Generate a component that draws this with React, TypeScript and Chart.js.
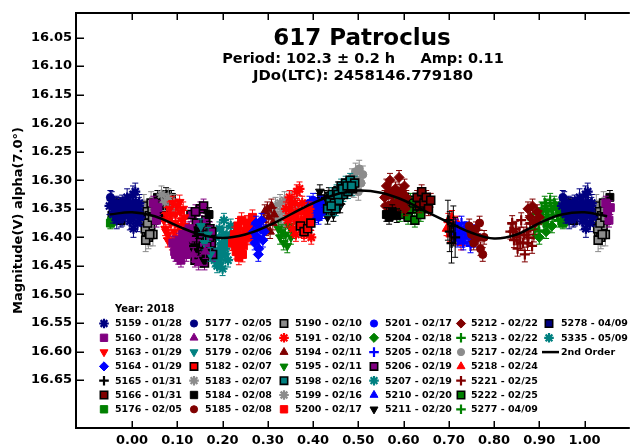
import React, { useEffect, useRef } from "react";
import { Chart, registerables } from "chart.js";
import { drawPoint } from "chart.js/helpers";

Chart.register(...registerables);

// ---------- axis ticks ----------
const xTicks = [0, 0.1, 0.2, 0.3, 0.4, 0.5, 0.6, 0.7, 0.8, 0.9, 1.0];
const yTicks = [16.05, 16.1, 16.15, 16.2, 16.25, 16.3, 16.35, 16.4, 16.45, 16.5, 16.55, 16.6, 16.65];

// ---------- session data: [phase, magnitude] ----------
const s5159 = [[0.95,16.345],[0.955,16.335],[0.958,16.36],[0.962,16.35],[0.966,16.37],[0.97,16.355],[0.974,16.345],[0.978,16.365],[0.982,16.352],[0.986,16.345],[0.989,16.33],[0.991,16.36],[0.993,16.35],[0.995,16.372],[0.997,16.34],[0.999,16.355],[0.002,16.325],[0.004,16.345],[0.006,16.362],[0.008,16.338],[0.01,16.35],[0.012,16.375],[0.014,16.355],[0.016,16.34],[0.018,16.365],[0.003,16.385],[0.007,16.32],[0.96,16.355],[0.968,16.345],[0.976,16.355],[0.992,16.345],[0.998,16.365],[0.005,16.35],[0.011,16.36],[0.015,16.345]];
const s5160 = [[0.09,16.41],[0.094,16.425],[0.098,16.415],[0.102,16.435],[0.106,16.42],[0.11,16.43],[0.114,16.41],[0.118,16.425],[0.122,16.4],[0.126,16.385],[0.112,16.395],[0.104,16.405],[0.096,16.43],[0.1,16.42],[0.108,16.44],[0.116,16.415],[0.12,16.43],[0.047,16.34],[0.051,16.355],[0.054,16.37],[0.057,16.348]];
const s5163 = [[0.07,16.37],[0.073,16.385],[0.076,16.36],[0.08,16.395],[0.083,16.35],[0.086,16.375],[0.09,16.34],[0.093,16.39],[0.096,16.36],[0.1,16.345],[0.103,16.38],[0.106,16.355],[0.11,16.37],[0.113,16.35],[0.116,16.365],[0.088,16.41],[0.079,16.405],[0.098,16.4],[0.105,16.338],[0.075,16.39],[0.085,16.36],[0.095,16.375],[0.108,16.39],[0.118,16.38],[0.082,16.37]];
const s5164 = [[0.268,16.39],[0.271,16.41],[0.274,16.375],[0.277,16.4],[0.28,16.42],[0.283,16.385],[0.286,16.37],[0.289,16.405],[0.292,16.39],[0.279,16.43]];
const s5165 = [[0.698,16.37],[0.702,16.39],[0.706,16.41],[0.71,16.38],[0.714,16.4]];
const s5166 = [[0.63,16.33],[0.635,16.345],[0.64,16.32],[0.645,16.34],[0.65,16.33],[0.655,16.35],[0.66,16.335]];
const s5176 = [[0.952,16.375],[0.955,16.372]];
const s5177 = [[0.952,16.33],[0.96,16.345],[0.968,16.36],[0.978,16.338]];
const s5178 = [[0.135,16.43],[0.147,16.445],[0.162,16.425]];
const s5179 = [[0.152,16.38],[0.16,16.41],[0.168,16.395],[0.173,16.43]];
const s5182 = [[0.372,16.38],[0.38,16.39],[0.388,16.385],[0.395,16.375]];
const s5183 = [[0.065,16.325],[0.072,16.338],[0.08,16.33],[0.088,16.35],[0.093,16.34]];
const s5184 = [[0.056,16.33],[0.06,16.345],[0.063,16.36],[0.067,16.335],[0.071,16.35],[0.075,16.325],[0.079,16.34],[0.083,16.355],[0.087,16.33],[0.091,16.345],[0.138,16.42],[0.146,16.39],[0.155,16.44],[0.164,16.43],[0.17,16.36],[0.562,16.36],[0.568,16.365],[0.575,16.355],[0.585,16.362]];
const s5185 = [[0.745,16.38],[0.75,16.395],[0.755,16.41],[0.76,16.385],[0.765,16.4],[0.77,16.42],[0.775,16.43],[0.768,16.375],[0.778,16.4]];
const s5190 = [[0.026,16.345],[0.028,16.37],[0.031,16.39],[0.033,16.355],[0.036,16.4],[0.038,16.362],[0.041,16.38],[0.044,16.35],[0.046,16.395],[0.048,16.37],[0.03,16.405],[0.042,16.34],[0.029,16.385],[0.034,16.375],[0.039,16.395],[0.045,16.365]];
const s5191 = [[0.34,16.35],[0.344,16.37],[0.348,16.33],[0.352,16.36],[0.356,16.385],[0.36,16.34],[0.364,16.32],[0.368,16.355],[0.372,16.375],[0.376,16.34],[0.38,16.395],[0.384,16.36],[0.388,16.38],[0.392,16.35],[0.396,16.4],[0.362,16.395],[0.37,16.315],[0.346,16.35],[0.354,16.34],[0.358,16.365],[0.366,16.37],[0.374,16.355],[0.382,16.37],[0.39,16.36]];
const s5194 = [[0.29,16.37],[0.293,16.355],[0.296,16.385],[0.299,16.35],[0.302,16.365],[0.305,16.39],[0.308,16.345],[0.311,16.375],[0.314,16.36]];
const s5195 = [[0.323,16.385],[0.327,16.4],[0.331,16.39],[0.335,16.41],[0.339,16.395],[0.343,16.415],[0.347,16.38],[0.351,16.4],[0.355,16.39]];
const s5198 = [[0.432,16.35],[0.437,16.335],[0.442,16.325],[0.447,16.34],[0.452,16.32],[0.457,16.335],[0.462,16.31],[0.467,16.325],[0.472,16.305],[0.477,16.32],[0.482,16.3],[0.487,16.315],[0.492,16.305],[0.45,16.35],[0.44,16.345],[0.455,16.325],[0.465,16.315],[0.475,16.31],[0.485,16.31]];
const s5199 = [[0.312,16.36],[0.317,16.345],[0.322,16.365],[0.327,16.34],[0.332,16.355],[0.337,16.335],[0.342,16.37],[0.347,16.35],[0.352,16.335],[0.357,16.36],[0.362,16.345],[0.33,16.38]];
const s5200 = [[0.222,16.41],[0.226,16.395],[0.23,16.425],[0.234,16.38],[0.238,16.405],[0.242,16.37],[0.246,16.415],[0.25,16.39],[0.254,16.375],[0.258,16.4],[0.262,16.385],[0.266,16.365],[0.236,16.435],[0.244,16.43],[0.228,16.415],[0.24,16.42],[0.248,16.4],[0.256,16.385],[0.232,16.395]];
const s5201 = [[0.388,16.35],[0.392,16.34],[0.396,16.36],[0.4,16.335],[0.404,16.355],[0.408,16.345],[0.412,16.365],[0.416,16.34],[0.42,16.355]];
const s5204 = [[0.9,16.4],[0.915,16.39],[0.928,16.38],[0.94,16.35]];
const s5205 = [[0.712,16.395],[0.716,16.38],[0.72,16.405],[0.724,16.39],[0.728,16.375],[0.732,16.41],[0.736,16.395],[0.74,16.385],[0.744,16.4],[0.748,16.415],[0.752,16.39],[0.756,16.405],[0.76,16.395]];
const s5206 = [[0.13,16.36],[0.133,16.39],[0.136,16.42],[0.139,16.44],[0.142,16.375],[0.145,16.405],[0.148,16.43],[0.151,16.35],[0.154,16.395],[0.157,16.415],[0.16,16.445],[0.163,16.37],[0.166,16.4],[0.169,16.425],[0.172,16.385],[0.175,16.41],[0.178,16.43],[0.158,16.345],[0.14,16.355],[0.134,16.405],[0.144,16.425],[0.15,16.385],[0.156,16.43],[0.165,16.415],[0.171,16.4],[0.176,16.39]];
const s5207 = [[0.178,16.42],[0.182,16.44],[0.185,16.4],[0.188,16.45],[0.19,16.425],[0.193,16.385],[0.196,16.435],[0.198,16.41],[0.2,16.455],[0.203,16.37],[0.206,16.42],[0.209,16.395],[0.212,16.44],[0.215,16.405],[0.218,16.38],[0.184,16.43],[0.192,16.445],[0.197,16.42],[0.205,16.43],[0.21,16.41],[0.201,16.395]];
const s5210 = [[0.395,16.37],[0.405,16.362],[0.415,16.358],[0.716,16.39],[0.722,16.4],[0.728,16.39],[0.734,16.385],[0.74,16.4],[0.746,16.395],[0.752,16.405],[0.758,16.4],[0.73,16.405]];
const s5211 = [[0.41,16.335],[0.415,16.32],[0.42,16.345],[0.425,16.33],[0.43,16.355],[0.435,16.325],[0.44,16.34],[0.445,16.36],[0.45,16.33],[0.455,16.315],[0.46,16.345],[0.465,16.33],[0.432,16.365],[0.418,16.33],[0.428,16.345],[0.438,16.335],[0.448,16.345],[0.458,16.33]];
const s5212 = [[0.558,16.33],[0.562,16.31],[0.566,16.345],[0.57,16.3],[0.574,16.325],[0.578,16.355],[0.582,16.315],[0.586,16.34],[0.59,16.295],[0.594,16.32],[0.598,16.345],[0.602,16.31],[0.606,16.33],[0.56,16.345],[0.568,16.32],[0.576,16.34],[0.584,16.325],[0.592,16.335],[0.6,16.325],[0.604,16.35],[0.875,16.35],[0.88,16.365],[0.885,16.345],[0.89,16.375],[0.895,16.355],[0.9,16.365]];
const s5213 = [[0.885,16.37],[0.89,16.385],[0.895,16.36],[0.9,16.39],[0.905,16.35],[0.91,16.375],[0.915,16.345],[0.92,16.365],[0.898,16.375],[0.908,16.36],[0.918,16.38]];
const s5217 = [[0.482,16.31],[0.486,16.295],[0.49,16.315],[0.494,16.285],[0.498,16.3],[0.502,16.28],[0.506,16.305],[0.51,16.29],[0.5,16.32]];
const s5218 = [[0.695,16.385],[0.699,16.37],[0.703,16.395],[0.707,16.365],[0.711,16.38],[0.715,16.4],[0.719,16.375],[0.723,16.39],[0.727,16.41]];
const s5221 = [[0.836,16.39],[0.84,16.375],[0.844,16.405],[0.848,16.385],[0.852,16.42],[0.856,16.395],[0.86,16.37],[0.864,16.41],[0.868,16.43],[0.872,16.39],[0.876,16.4],[0.88,16.375],[0.884,16.415],[0.888,16.395],[0.842,16.39],[0.85,16.4],[0.858,16.41],[0.866,16.395],[0.874,16.41]];
const s5222 = [[0.585,16.33],[0.59,16.345],[0.595,16.325],[0.6,16.355],[0.605,16.34],[0.61,16.365],[0.615,16.335],[0.62,16.35],[0.625,16.37],[0.63,16.345],[0.638,16.36],[0.592,16.36],[0.602,16.33],[0.612,16.35],[0.622,16.34]];
const s5277 = [[0.912,16.34],[0.918,16.355],[0.924,16.335],[0.93,16.36],[0.936,16.345],[0.942,16.37],[0.946,16.355],[0.915,16.365],[0.927,16.35],[0.933,16.34],[0.939,16.36]];
const s5278 = [[0.948,16.35],[0.956,16.362],[0.965,16.34],[0.975,16.37],[0.983,16.356]];
const s5335 = [[0.44,16.33],[0.47,16.315],[0.49,16.31]];

// ---------- 2nd order fit ----------
const fitPhase = [-0.05, 0, 0.05, 0.1, 0.15, 0.2, 0.25, 0.3, 0.35, 0.4, 0.45, 0.5, 0.55, 0.6, 0.65, 0.7, 0.75, 0.8, 0.85, 0.9, 0.95, 1.0, 1.05];
const fitMag = [16.36, 16.356, 16.363, 16.38, 16.395, 16.401, 16.395, 16.38, 16.36, 16.34, 16.325, 16.318, 16.322, 16.335, 16.355, 16.374, 16.392, 16.402, 16.395, 16.375, 16.36, 16.356, 16.363];

// ---------- colours ----------
const NAVY = "#000080", PURPLE = "#800080", RED = "#ff0000", BLUE = "#0000ff", BLACK = "#000000";
const MAROON = "#800000", GREEN = "#008000", TEAL = "#008080", GRAY = "#8c8c8c";

type Def = { label: string; data: number[][]; err: number; color: string; shape: string; down?: boolean; edge?: boolean };

const defs: Def[] = [
  { label: "5159 - 01/28", data: s5159, err: 0.015, color: NAVY, shape: "star" },
  { label: "5160 - 01/28", data: s5160, err: 0.012, color: PURPLE, shape: "rect" },
  { label: "5163 - 01/29", data: s5163, err: 0.012, color: RED, shape: "triangle", down: true },
  { label: "5164 - 01/29", data: s5164, err: 0.012, color: BLUE, shape: "rectRot" },
  { label: "5165 - 01/31", data: s5165, err: 0.035, color: BLACK, shape: "cross" },
  { label: "5166 - 01/31", data: s5166, err: 0.012, color: MAROON, shape: "rect", edge: true },
  { label: "5176 - 02/05", data: s5176, err: 0.01, color: GREEN, shape: "rect" },
  { label: "5177 - 02/05", data: s5177, err: 0.012, color: NAVY, shape: "circle" },
  { label: "5178 - 02/06", data: s5178, err: 0.012, color: PURPLE, shape: "triangle" },
  { label: "5179 - 02/06", data: s5179, err: 0.012, color: TEAL, shape: "triangle", down: true },
  { label: "5182 - 02/07", data: s5182, err: 0.012, color: RED, shape: "rect", edge: true },
  { label: "5183 - 02/07", data: s5183, err: 0.015, color: GRAY, shape: "star" },
  { label: "5184 - 02/08", data: s5184, err: 0.012, color: BLACK, shape: "rect" },
  { label: "5185 - 02/08", data: s5185, err: 0.012, color: MAROON, shape: "circle" },
  { label: "5190 - 02/10", data: s5190, err: 0.02, color: GRAY, shape: "rect", edge: true },
  { label: "5191 - 02/10", data: s5191, err: 0.012, color: RED, shape: "star" },
  { label: "5194 - 02/11", data: s5194, err: 0.012, color: MAROON, shape: "triangle" },
  { label: "5195 - 02/11", data: s5195, err: 0.012, color: GREEN, shape: "triangle", down: true },
  { label: "5198 - 02/16", data: s5198, err: 0.012, color: TEAL, shape: "rect", edge: true },
  { label: "5199 - 02/16", data: s5199, err: 0.015, color: GRAY, shape: "star" },
  { label: "5200 - 02/17", data: s5200, err: 0.013, color: RED, shape: "rect" },
  { label: "5201 - 02/17", data: s5201, err: 0.012, color: BLUE, shape: "circle" },
  { label: "5204 - 02/18", data: s5204, err: 0.012, color: GREEN, shape: "rectRot" },
  { label: "5205 - 02/18", data: s5205, err: 0.012, color: BLUE, shape: "cross" },
  { label: "5206 - 02/19", data: s5206, err: 0.012, color: PURPLE, shape: "rect", edge: true },
  { label: "5207 - 02/19", data: s5207, err: 0.012, color: TEAL, shape: "star" },
  { label: "5210 - 02/20", data: s5210, err: 0.012, color: BLUE, shape: "triangle" },
  { label: "5211 - 02/20", data: s5211, err: 0.012, color: BLACK, shape: "triangle", down: true },
  { label: "5212 - 02/22", data: s5212, err: 0.012, color: MAROON, shape: "rectRot" },
  { label: "5213 - 02/22", data: s5213, err: 0.012, color: GREEN, shape: "cross" },
  { label: "5217 - 02/24", data: s5217, err: 0.015, color: GRAY, shape: "circle" },
  { label: "5218 - 02/24", data: s5218, err: 0.012, color: RED, shape: "triangle" },
  { label: "5221 - 02/25", data: s5221, err: 0.013, color: MAROON, shape: "cross" },
  { label: "5222 - 02/25", data: s5222, err: 0.012, color: GREEN, shape: "rect", edge: true },
  { label: "5277 - 04/09", data: s5277, err: 0.012, color: GREEN, shape: "cross" },
  { label: "5278 - 04/09", data: s5278, err: 0.012, color: NAVY, shape: "rect", edge: true },
  { label: "5335 - 05/09", data: s5335, err: 0.012, color: TEAL, shape: "star" },
];

const RADIUS: Record<string, number> = { rect: 5.6, circle: 4, triangle: 5, rectRot: 5, star: 5, cross: 5 };
const LEG_RADIUS: Record<string, number> = { rect: 5.2, circle: 3.6, triangle: 4.6, rectRot: 4.6, star: 4.8, cross: 4.8 };
const FONT = "'DejaVu Sans', sans-serif";

function wrapPoints(data: number[][]) {
  const out: { x: number; y: number }[] = [];
  for (const [p, m] of data) {
    out.push({ x: p, y: m });
    if (p >= 0.95) out.push({ x: p - 1, y: m });
    if (p < 0.06) out.push({ x: p + 1, y: m });
  }
  return out;
}

function pointOpts(d: Def, legend = false) {
  const stroked = d.shape === "star" || d.shape === "cross";
  return {
    pointStyle: d.shape,
    radius: (legend ? LEG_RADIUS : RADIUS)[d.shape],
    rotation: d.down ? 180 : 0,
    borderWidth: stroked ? 2.2 : d.edge ? 1.6 : 1,
    fill: d.color,
    stroke: d.edge ? "#000" : d.color,
  };
}

const decor = {
  id: "decor",
  beforeDatasetDraw(chart: any, args: any) {
    const ds = chart.data.datasets[args.index];
    if (ds.err === undefined) return;
    const ctx = chart.ctx;
    const ys = chart.scales.y;
    ctx.save();
    ctx.beginPath();
    ctx.rect(chart.chartArea.left, chart.chartArea.top, chart.chartArea.right - chart.chartArea.left, chart.chartArea.bottom - chart.chartArea.top);
    ctx.clip();
    ctx.strokeStyle = ds.errColor;
    ctx.lineWidth = 1;
    args.meta.data.forEach((el: any, i: number) => {
      const pt = ds.data[i];
      const y1 = ys.getPixelForValue(pt.y - ds.err);
      const y2 = ys.getPixelForValue(pt.y + ds.err);
      ctx.beginPath();
      ctx.moveTo(el.x, y1); ctx.lineTo(el.x, y2);
      ctx.moveTo(el.x - 3, y1); ctx.lineTo(el.x + 3, y1);
      ctx.moveTo(el.x - 3, y2); ctx.lineTo(el.x + 3, y2);
      ctx.stroke();
    });
    ctx.restore();
  },
  afterDraw(chart: any) {
    const ctx = chart.ctx;
    const ca = chart.chartArea;
    const xs = chart.scales.x, ys = chart.scales.y;
    ctx.save();
    // frame
    ctx.strokeStyle = "#000";
    ctx.lineWidth = 2;
    ctx.beginPath();
    ctx.moveTo(ca.right, ca.top); ctx.lineTo(ca.left, ca.top); ctx.lineTo(ca.left, ca.bottom); ctx.lineTo(ca.right, ca.bottom);
    ctx.stroke();
    // inward ticks
    ctx.lineWidth = 1.5;
    ctx.beginPath();
    for (const v of xTicks) {
      const px = Math.round(xs.getPixelForValue(v)) + 0.25;
      ctx.moveTo(px, ca.bottom); ctx.lineTo(px, ca.bottom - 7);
      ctx.moveTo(px, ca.top); ctx.lineTo(px, ca.top + 7);
    }
    for (const v of yTicks) {
      const py = Math.round(ys.getPixelForValue(v)) + 0.25;
      ctx.moveTo(ca.left, py); ctx.lineTo(ca.left + 8, py);
    }
    ctx.stroke();

    // titles
    ctx.fillStyle = "#000";
    ctx.textAlign = "center";
    ctx.textBaseline = "alphabetic";
    ctx.font = `bold 23px ${FONT}`;
    ctx.fillText("617 Patroclus", 362, 45);
    ctx.font = `bold 14.5px ${FONT}`;
    ctx.fillText("Period: 102.3 \u00b1 0.2 h     Amp: 0.11", 363, 63);
    ctx.font = `bold 14.8px ${FONT}`;
    ctx.fillText("JDo(LTC): 2458146.779180", 363, 79.5);

    // y axis title
    ctx.save();
    ctx.translate(19, (ca.top + ca.bottom) / 2);
    ctx.rotate(-Math.PI / 2);
    ctx.font = `bold 13px ${FONT}`;
    ctx.textBaseline = "middle";
    ctx.fillText("Magnitude(V) alpha(7.0\u00b0)", 0, 0);
    ctx.restore();

    // legend
    const markX = [104, 194, 284, 374, 461, 549];
    const textX = [115, 205, 295, 385, 471, 561];
    const row0 = 323.5, rowH = 14.3;
    ctx.textAlign = "left";
    ctx.textBaseline = "middle";
    ctx.font = `bold 9.9px ${FONT}`;
    ctx.fillText("Year: 2018", 115, 309);
    ctx.font = `bold 9.5px ${FONT}`;
    const entries: (Def | null)[] = [...defs, null];
    entries.forEach((d, i) => {
      const col = Math.floor(i / 7), row = i % 7;
      const y = row0 + row * rowH;
      if (d) {
        const o = pointOpts(d, true);
        ctx.fillStyle = o.fill;
        ctx.strokeStyle = o.stroke;
        ctx.lineWidth = o.borderWidth;
        drawPoint(ctx, { pointStyle: o.pointStyle, radius: o.radius, rotation: o.rotation, borderWidth: o.borderWidth } as any, markX[col], y);
        ctx.fillStyle = "#000";
        ctx.fillText(d.label, textX[col], y + 0.5);
      } else {
        ctx.strokeStyle = "#000";
        ctx.lineWidth = 2.5;
        ctx.beginPath();
        ctx.moveTo(542, y); ctx.lineTo(559, y);
        ctx.stroke();
        ctx.fillStyle = "#000";
        ctx.fillText("2nd Order", 561, y + 0.5);
      }
    });
    ctx.restore();
  },
};

export default function App() {
  const ref = useRef<HTMLCanvasElement | null>(null);
  useEffect(() => {
    document.body.style.margin = "0";
    const canvas = ref.current!;
    const datasets: any[] = defs.map((d) => {
      const o = pointOpts(d);
      return {
        type: "scatter",
        label: d.label,
        data: wrapPoints(d.data),
        showLine: false,
        pointStyle: o.pointStyle,
        pointRadius: o.radius,
        pointRotation: o.rotation,
        pointBackgroundColor: o.fill,
        pointBorderColor: o.stroke,
        pointBorderWidth: o.borderWidth,
        err: d.err,
        errColor: d.color,
        order: 1,
      };
    });
    datasets.push({
      type: "line",
      label: "2nd Order",
      data: fitPhase.map((x, i) => ({ x, y: fitMag[i] })),
      borderColor: "#000",
      borderWidth: 2.5,
      pointRadius: 0,
      tension: 0.4,
      fill: false,
      order: 0,
    });
    const tickFont = { family: FONT, size: 13, weight: "bold" as const };
    const chart = new Chart(canvas, {
      type: "scatter",
      data: { datasets },
      options: {
        responsive: false,
        animation: false,
        devicePixelRatio: 1,
        layout: { padding: { top: 13, left: 0, right: 0, bottom: 0 } },
        plugins: { legend: { display: false }, tooltip: { enabled: false }, title: { display: false } },
        scales: {
          x: {
            type: "linear",
            min: -0.124,
            max: 1.1,
            afterBuildTicks: (s: any) => { s.ticks = xTicks.map((v) => ({ value: v })); },
            afterFit: (s: any) => { s.height = 19; },
            grid: { display: false, drawTicks: false },
            border: { display: false },
            ticks: { padding: 5, autoSkip: false, maxRotation: 0, color: "#000", font: tickFont, callback: (v: any) => Number(v).toFixed(2) },
          },
          y: {
            type: "linear",
            reverse: true,
            min: 16.007,
            max: 16.734,
            afterBuildTicks: (s: any) => { s.ticks = yTicks.map((v) => ({ value: v })); },
            afterFit: (s: any) => { s.width = 76; },
            grid: { display: false, drawTicks: false },
            border: { display: false },
            ticks: { padding: 4, autoSkip: false, color: "#000", font: tickFont, callback: (v: any) => Number(v).toFixed(2) },
          },
        },
      } as any,
      plugins: [decor],
    });
    return () => chart.destroy();
  }, []);
  return (
    <div style={{ width: 637, height: 447 }}>
      <canvas ref={ref} width={637} height={447} style={{ display: "block", width: 637, height: 447 }} />
    </div>
  );
}
